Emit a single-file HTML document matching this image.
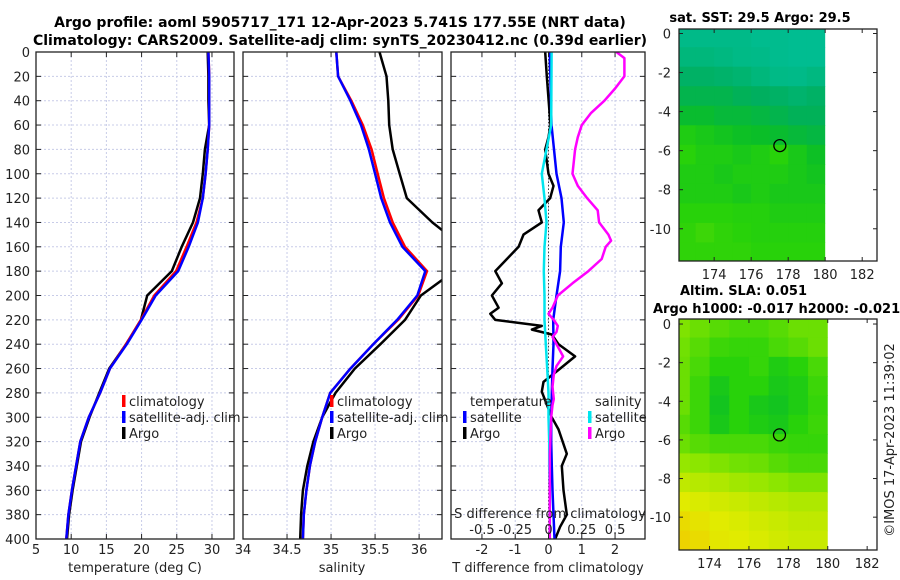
<!DOCTYPE html>
<html><head><meta charset="utf-8"><style>
html,body{margin:0;padding:0;background:#fff;}
svg{display:block;font-family:"DejaVu Sans","Liberation Sans",sans-serif;}
</style></head><body>
<svg id="chart" width="900" height="580" viewBox="0 0 900 580" xmlns="http://www.w3.org/2000/svg">
<text x="340" y="27" font-size="14" font-weight="bold" text-anchor="middle">Argo profile: aoml 5905717_171 12-Apr-2023 5.741S 177.55E (NRT data)</text>
<text x="340" y="45" font-size="14" font-weight="bold" text-anchor="middle">Climatology: CARS2009. Satellite-adj clim: synTS_20230412.nc (0.39d earlier)</text>
<text x="760" y="22" font-size="13" font-weight="bold" text-anchor="middle">sat. SST: 29.5 Argo: 29.5</text>
<text x="680" y="295" font-size="13" font-weight="bold">Altim. SLA: 0.051</text>
<text x="653" y="313" font-size="13" font-weight="bold">Argo h1000: -0.017 h2000: -0.021</text>
<text transform="translate(894,440) rotate(-90)" font-size="13" text-anchor="middle" fill="#222">©IMOS 17-Apr-2023 11:39:02</text>
<g id="plots"></g>
</svg>
<script>
// ---- data ----
const depths = [0,20,40,60,80,100,120,140,160,180,200,220,240,260,280,300,320,340,360,380,400];
const tempClim = [29.5,29.6,29.6,29.6,29.4,29.1,28.7,27.8,26.4,24.9,21.8,19.9,17.8,15.5,14.1,12.5,11.3,10.7,10.1,9.6,9.3];
const tempSat  = [29.5,29.6,29.6,29.6,29.4,29.1,28.7,28.0,26.7,25.2,22.0,20.0,17.9,15.5,14.1,12.5,11.3,10.7,10.1,9.6,9.3];
const tempArgo = [29.4,29.5,29.5,29.6,29.0,28.7,28.3,27.3,25.7,24.3,20.8,19.9,17.8,15.4,14.0,12.6,11.4,10.8,10.2,9.7,9.4];
const salClim = [35.06,35.08,35.23,35.36,35.46,35.53,35.60,35.70,35.84,36.09,35.99,35.76,35.48,35.22,34.99,34.90,34.82,34.76,34.72,34.69,34.68];
const salSat  = [35.06,35.08,35.22,35.34,35.43,35.50,35.57,35.67,35.81,36.07,35.98,35.75,35.48,35.22,34.99,34.90,34.82,34.76,34.72,34.69,34.68];
const salArgo = [35.55,35.63,35.65,35.66,35.70,35.78,35.86,36.15,36.50,36.40,36.02,35.84,35.56,35.27,35.05,34.90,34.80,34.73,34.68,34.66,34.65];
const dDepthsT = [0,20,60,70,80,100,110,120,130,140,150,160,170,180,190,200,210,215,220,225,228,232,240,250,260,271,279,300,310,330,340,360,380,390,400];
const dTempArgo = [-0.1,-0.05,0.06,0.0,-0.1,0.0,0.15,0.05,-0.3,-0.2,-0.75,-0.9,-1.25,-1.6,-1.4,-1.7,-1.5,-1.75,-1.6,-0.2,-0.5,0.1,0.3,0.8,0.35,-0.15,-0.2,0.1,0.3,0.55,0.4,0.45,0.55,0.35,0.2];
const dDepthsTS = [0,60,100,120,140,160,180,200,220,240,260,280,300,320,340,360,380,400];
const dTempSat = [0.04,0.09,0.24,0.39,0.46,0.37,0.35,0.24,0.14,0.15,0.12,0.1,0.08,0.08,0.1,0.12,0.15,0.18];
const dSalSat  = [0.023,0.02,-0.05,-0.03,-0.015,-0.03,-0.035,-0.03,-0.03,-0.02,-0.01,0,0,0.005,0.005,0.01,0.01,0.01];
const dDepthsS = [0,5,20,30,40,50,60,70,80,90,100,110,120,130,140,150,155,160,170,180,190,200,210,215,220,225,230,234,242,250,258,265,275,285,290,300,330,400];
const dSalArgo = [0.51,0.57,0.57,0.5,0.42,0.32,0.25,0.22,0.2,0.19,0.18,0.22,0.29,0.37,0.38,0.45,0.47,0.43,0.4,0.3,0.18,0.07,0.03,0.0,0.04,0.07,0.06,0.03,0.07,0.11,0.06,0.04,0.03,0.04,0.03,0.02,0.01,0.01];
const sstGrid = [
[0.05,0.05,0.05,0.05,0.03,0.03,0.02,0.02],
[0.1,0.1,0.08,0.06,0.05,0.03,0.02,0.02],
[0.18,0.18,0.16,0.14,0.1,0.06,0.05,0.08],
[0.25,0.25,0.25,0.22,0.2,0.18,0.15,0.18],
[0.33,0.33,0.3,0.3,0.28,0.25,0.22,0.22],
[0.42,0.4,0.38,0.36,0.35,0.33,0.3,0.28],
[0.45,0.42,0.42,0.4,0.42,0.45,0.4,0.36],
[0.42,0.42,0.4,0.42,0.42,0.42,0.4,0.38],
[0.42,0.42,0.42,0.4,0.42,0.4,0.4,0.4],
[0.45,0.45,0.45,0.44,0.44,0.42,0.42,0.42],
[0.46,0.48,0.46,0.45,0.44,0.44,0.44,0.44],
[0.46,0.46,0.46,0.46,0.45,0.45,0.45,0.45]];
const slaGrid = [
[0.58,0.55,0.52,0.5,0.5,0.52,0.55,0.55],
[0.56,0.52,0.48,0.47,0.47,0.5,0.52,0.55],
[0.55,0.5,0.45,0.45,0.47,0.42,0.45,0.5],
[0.55,0.48,0.4,0.45,0.45,0.4,0.42,0.48],
[0.55,0.48,0.38,0.45,0.4,0.38,0.42,0.47],
[0.52,0.48,0.4,0.45,0.42,0.4,0.45,0.48],
[0.55,0.52,0.5,0.5,0.5,0.48,0.47,0.47],
[0.62,0.6,0.58,0.56,0.55,0.52,0.5,0.5],
[0.72,0.7,0.68,0.65,0.63,0.6,0.58,0.58],
[0.8,0.78,0.76,0.74,0.72,0.7,0.68,0.68],
[0.88,0.84,0.8,0.78,0.76,0.74,0.72,0.72],
[0.92,0.88,0.82,0.8,0.78,0.76,0.74,0.74]];
const depthTicks = [0,20,40,60,80,100,120,140,160,180,200,220,240,260,280,300,320,340,360,380,400];
const tempTicks = [5,10,15,20,25,30];
const salTicks = [34,34.5,35,35.5,36];
const dtTicks = [-2,-1,0,1,2];
const dsTicks = [-0.5,-0.25,0,0.25,0.5];
const dsTickLabels = ["-0.5","-0.25","0","0.25","0.5"];
const latTicks = [0,-2,-4,-6,-8,-10];
const lonTicks = [174,176,178,180,182];
const argoLon = 177.55, argoLat = -5.741;

// ---- helpers ----
const NS = "http://www.w3.org/2000/svg";
const root = document.getElementById('plots');
function mk(tag, attrs, parent){ const e=document.createElementNS(NS,tag); for(const k in attrs) e.setAttribute(k,attrs[k]); (parent||root).appendChild(e); return e; }
function txt(x,y,s,size,anchor,parent){ const t=mk('text',{x:x,y:y,'font-size':size,'text-anchor':anchor||'middle',fill:'#222'},parent); t.textContent=s; return t; }
const Y0=52, Y1=539;
const yD = d => Y0 + d*(Y1-Y0)/400;

function panel(name, x0, x1, xmin, xmax){
  const g = mk('g',{});
  
  
  const xs = v => x0 + (v-xmin)*(x1-x0)/(xmax-xmin);
  const cid = name+'-clip';
  const cp = mk('clipPath',{id:cid},g); mk('rect',{x:x0,y:Y0,width:x1-x0,height:Y1-Y0},cp);
  return {g, xs, x0, x1, cid};
}
function grid(p, xticks, xsFn){
  depthTicks.forEach(d=>{ if(d>0&&d<400){ const l=mk('line',{x1:p.x0,x2:p.x1,y1:yD(d),y2:yD(d),stroke:'#c8cce8','stroke-width':1,'stroke-dasharray':'2,2'},p.g);
      }});
  xticks.forEach(v=>{ const x=xsFn(v); if(x>p.x0+1&&x<p.x1-1){ const l=mk('line',{x1:x,x2:x,y1:Y0,y2:Y1,stroke:'#c8cce8','stroke-width':1,'stroke-dasharray':'2,2'},p.g);
      }});
}
function frame(p, xticks, xsFn, labels, labelY){
  depthTicks.forEach(d=>{ mk('line',{x1:p.x0,x2:p.x0+5,y1:yD(d),y2:yD(d),stroke:'#222'},p.g); mk('line',{x1:p.x1-5,x2:p.x1,y1:yD(d),y2:yD(d),stroke:'#222'},p.g); });
  xticks.forEach((v,i)=>{ const x=xsFn(v); mk('line',{x1:x,x2:x,y1:Y1,y2:Y1-5,stroke:'#222'},p.g); mk('line',{x1:x,x2:x,y1:Y0,y2:Y0+5,stroke:'#222'},p.g);
    if(labels){ const t=txt(x,labelY,labels[i],13,'middle',p.g);   } });
  const r=mk('rect',{x:p.x0,y:Y0,width:p.x1-p.x0,height:Y1-Y0,fill:'none',stroke:'#222','stroke-width':1.3},p.g);
   
}
function line(p, xsFn, vals, ds, color, w, name){
  const pts = vals.map((v,i)=>xsFn(v).toFixed(1)+','+yD(ds[i]).toFixed(1)).join(' ');
  const l = mk('polyline',{points:pts,fill:'none',stroke:color,'stroke-width':w,'stroke-linejoin':'round','clip-path':'url(#'+p.cid+')'},p.g);
  
  
}
function legend(g, x, y, color, label){
  const m=mk('rect',{x:x-2,y:y-11,width:3.5,height:12,fill:color},g);
   
  const t=txt(x+5,y,label,13,'start',g);
   
}

// ---- panel 1 temperature ----
const p1 = panel('temperature-panel',36,234,5,33.13);
grid(p1,tempTicks,p1.xs);
line(p1,p1.xs,tempArgo,depths,'#000',2.5,'temp-argo-line');
line(p1,p1.xs,tempClim,depths,'#f00',2.5,'temp-climatology-line');
line(p1,p1.xs,tempSat,depths,'#00f',2.5,'temp-satellite-line');
frame(p1,tempTicks,p1.xs,tempTicks.map(String),554);
depthTicks.forEach(d=>{ const t=txt(30,yD(d)+5,String(d),13,'end',p1.g);   });
{ const t=txt(135,572,'temperature (deg C)',13,'middle',p1.g);   }
legend(p1.g,124,406,'#f00','climatology'); legend(p1.g,124,422,'#00f','satellite-adj. clim'); legend(p1.g,124,438,'#000','Argo');

// ---- panel 2 salinity ----
const p2 = panel('salinity-panel',243,442,34,36.26);
grid(p2,salTicks,p2.xs);
line(p2,p2.xs,salArgo,depths,'#000',2.5,'sal-argo-line');
line(p2,p2.xs,salClim,depths,'#f00',2.5,'sal-climatology-line');
line(p2,p2.xs,salSat,depths,'#00f',2.5,'sal-satellite-line');
frame(p2,salTicks,p2.xs,salTicks.map(String),554);
{ const t=txt(342,572,'salinity',13,'middle',p2.g);   }
legend(p2.g,332,406,'#f00','climatology'); legend(p2.g,332,422,'#00f','satellite-adj. clim'); legend(p2.g,332,438,'#000','Argo');

// ---- panel 3 differences ----
const p3 = panel('difference-panel',451,645,-2.93,2.9);
const xsS = v => p3.xs(v*4);
grid(p3,dtTicks,p3.xs);
{ const l=mk('line',{x1:p3.xs(0),x2:p3.xs(0),y1:Y0,y2:Y1,stroke:'#444','stroke-width':1,'stroke-dasharray':'1.5,2'},p3.g);   }
line(p3,p3.xs,dTempArgo,dDepthsT,'#000',2.5,'dtemp-argo-line');
line(p3,p3.xs,dTempSat,dDepthsTS,'#00f',2.5,'dtemp-satellite-line');
line(p3,xsS,dSalSat,dDepthsTS,'#00e5ee',2.5,'dsal-satellite-line');
line(p3,xsS,dSalArgo,dDepthsS,'#f0f',2.5,'dsal-argo-line');
frame(p3,dtTicks,p3.xs,dtTicks.map(String),554);
dsTicks.forEach((v,i)=>{ const t=txt(xsS(v),534,dsTickLabels[i],13,'middle',p3.g);   });
{ const t=txt(550,518,'S difference from climatology',13,'middle',p3.g);   }
{ const t=txt(548,572,'T difference from climatology',13,'middle',p3.g);   }
{ const t=txt(470,406,'temperature',13,'start',p3.g);   }
{ const t=txt(595,406,'salinity',13,'start',p3.g);   }
legend(p3.g,465,422,'#00f','satellite'); legend(p3.g,465,438,'#000','Argo');
legend(p3.g,590,422,'#00e5ee','satellite'); legend(p3.g,590,438,'#f0f','Argo');

// ---- maps ----
const stops=[[0,[0,190,150]],[0.2,[0,175,95]],[0.35,[10,190,40]],[0.45,[40,210,10]],[0.6,[140,230,0]],[0.8,[225,235,0]],[1,[245,195,0]]];
function cmap(v){ for(let i=1;i<stops.length;i++){ if(v<=stops[i][0]){ const a=stops[i-1],b=stops[i]; const t=(v-a[0])/(b[0]-a[0]); return 'rgb('+a[1].map((c,k)=>Math.round(c+(b[1][k]-c)*t)).join(',')+')'; } } return 'rgb(245,195,0)'; }
function map(name, fx0,fx1,fy0,fy1, lonMin,lonMax,latMax,latMin, gridVals){
  const g=mk('g',{});  
  const xl=lon=>fx0+(lon-lonMin)*(fx1-fx0)/(lonMax-lonMin);
  const yl=lat=>fy0+(latMax-lat)*(fy1-fy0)/(latMax-latMin);
  const cid=name+'-clip'; const cp=mk('clipPath',{id:cid},g); mk('rect',{x:xl(Math.max(lonMin,172)),y:fy0,width:xl(180)-xl(Math.max(lonMin,172)),height:fy1-fy0},cp);
  const cg=mk('g',{'clip-path':'url(#'+cid+')'},g);
  gridVals.forEach((row,r)=>row.forEach((v,c)=>{
    const la=0.3-r, lo=172+c;
    const cell=mk('rect',{x:xl(lo),y:yl(la),width:xl(lo+1)-xl(lo)+0.5,height:yl(la-1)-yl(la)+0.5,fill:cmap(v)},cg);
     
  }));
  const c=mk('circle',{cx:xl(argoLon),cy:yl(argoLat),r:6,fill:'none',stroke:'#000','stroke-width':1.3},g);
   
  latTicks.forEach(v=>{ const y=yl(v); mk('line',{x1:fx0,x2:fx0+4,y1:y,y2:y,stroke:'#222'},g); mk('line',{x1:fx1-4,x2:fx1,y1:y,y2:y,stroke:'#222'},g);
    const t=txt(fx0-8,y+5,String(v),13,'end',g);   });
  lonTicks.forEach(v=>{ const x=xl(v); mk('line',{x1:x,x2:x,y1:fy1,y2:fy1-4,stroke:'#222'},g); mk('line',{x1:x,x2:x,y1:fy0,y2:fy0+4,stroke:'#222'},g);
    const t=txt(x,fy1+18,String(v),13,'middle',g);   });
  const fr=mk('rect',{x:fx0,y:fy0,width:fx1-fx0,height:fy1-fy0,fill:'none',stroke:'#222','stroke-width':1.3},g);
   
}
map('sst-map',679,877,29,261,172.1,182.8,0.23,-11.65,sstGrid);
map('sla-map',679,877,319,550,172.45,182.5,0.26,-11.7,slaGrid);
</script>
</body></html>
